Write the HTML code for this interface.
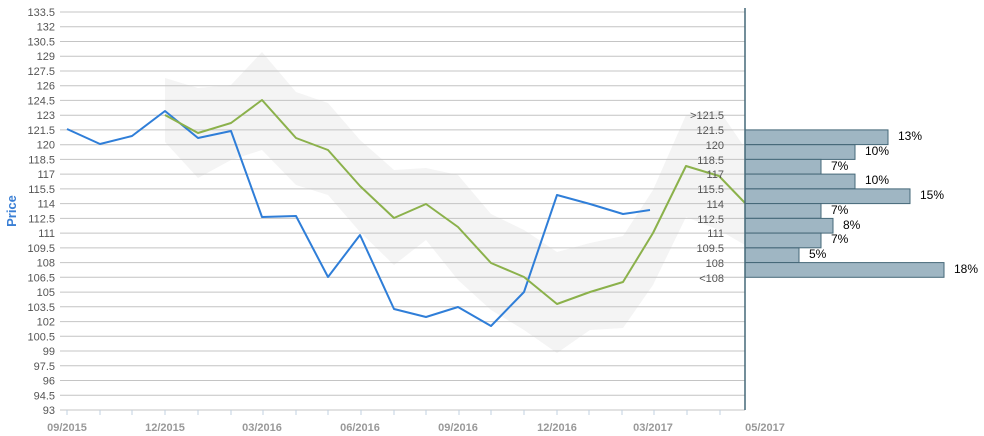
<!DOCTYPE html>
<html><head><meta charset="utf-8"><style>
html,body{margin:0;padding:0;background:#fff;}
svg{display:block;font-family:"Liberation Sans",sans-serif;}
</style></head><body>
<svg width="984" height="436" viewBox="0 0 984 436">
<polygon fill="#f4f4f4" points="165,78 198,88 231,85 262,52 296,92 328,103 360,140 394,170 426,168 458,175 491,214 524,230 557,252 590,243 623,236 653,190 686,115 719,110 745,148 745,245 719,230 686,217 653,285 623,328 590,330 557,353 524,330 491,310 458,280 426,240 394,265 360,232 328,195 296,185 262,150 231,160 198,178 165,142"/>
<g stroke="#c4c4c4" stroke-width="1">
<line x1="60" x2="745" y1="12" y2="12"/><line x1="60" x2="745" y1="26.7" y2="26.7"/><line x1="60" x2="745" y1="41.5" y2="41.5"/><line x1="60" x2="745" y1="56.2" y2="56.2"/><line x1="60" x2="745" y1="71" y2="71"/><line x1="60" x2="745" y1="85.7" y2="85.7"/><line x1="60" x2="745" y1="100.4" y2="100.4"/><line x1="60" x2="745" y1="115.2" y2="115.2"/><line x1="60" x2="745" y1="129.9" y2="129.9"/><line x1="60" x2="745" y1="144.7" y2="144.7"/><line x1="60" x2="745" y1="159.4" y2="159.4"/><line x1="60" x2="745" y1="174.1" y2="174.1"/><line x1="60" x2="745" y1="188.9" y2="188.9"/><line x1="60" x2="745" y1="203.6" y2="203.6"/><line x1="60" x2="745" y1="218.4" y2="218.4"/><line x1="60" x2="745" y1="233.1" y2="233.1"/><line x1="60" x2="745" y1="247.9" y2="247.9"/><line x1="60" x2="745" y1="262.6" y2="262.6"/><line x1="60" x2="745" y1="277.3" y2="277.3"/><line x1="60" x2="745" y1="292.1" y2="292.1"/><line x1="60" x2="745" y1="306.8" y2="306.8"/><line x1="60" x2="745" y1="321.6" y2="321.6"/><line x1="60" x2="745" y1="336.3" y2="336.3"/><line x1="60" x2="745" y1="351" y2="351"/><line x1="60" x2="745" y1="365.8" y2="365.8"/><line x1="60" x2="745" y1="380.5" y2="380.5"/><line x1="60" x2="745" y1="395.3" y2="395.3"/><line x1="60" x2="745" y1="410" y2="410"/>
</g>
<g stroke="#c0d0e0" stroke-width="1">
<line x1="67" x2="67" y1="410" y2="415"/><line x1="100" x2="100" y1="410" y2="415"/><line x1="132" x2="132" y1="410" y2="415"/><line x1="165" x2="165" y1="410" y2="415"/><line x1="198" x2="198" y1="410" y2="415"/><line x1="231" x2="231" y1="410" y2="415"/><line x1="263" x2="263" y1="410" y2="415"/><line x1="296" x2="296" y1="410" y2="415"/><line x1="328" x2="328" y1="410" y2="415"/><line x1="361" x2="361" y1="410" y2="415"/><line x1="394" x2="394" y1="410" y2="415"/><line x1="426" x2="426" y1="410" y2="415"/><line x1="459" x2="459" y1="410" y2="415"/><line x1="491" x2="491" y1="410" y2="415"/><line x1="524" x2="524" y1="410" y2="415"/><line x1="557" x2="557" y1="410" y2="415"/><line x1="589" x2="589" y1="410" y2="415"/><line x1="622" x2="622" y1="410" y2="415"/><line x1="654" x2="654" y1="410" y2="415"/><line x1="687" x2="687" y1="410" y2="415"/><line x1="720" x2="720" y1="410" y2="415"/>
</g>
<g font-size="11" fill="#555" text-anchor="end">
<text x="55" y="16">133.5</text><text x="55" y="30.7">132</text><text x="55" y="45.5">130.5</text><text x="55" y="60.2">129</text><text x="55" y="75">127.5</text><text x="55" y="89.7">126</text><text x="55" y="104.4">124.5</text><text x="55" y="119.2">123</text><text x="55" y="133.9">121.5</text><text x="55" y="148.7">120</text><text x="55" y="163.4">118.5</text><text x="55" y="178.1">117</text><text x="55" y="192.9">115.5</text><text x="55" y="207.6">114</text><text x="55" y="222.4">112.5</text><text x="55" y="237.1">111</text><text x="55" y="251.9">109.5</text><text x="55" y="266.6">108</text><text x="55" y="281.3">106.5</text><text x="55" y="296.1">105</text><text x="55" y="310.8">103.5</text><text x="55" y="325.6">102</text><text x="55" y="340.3">100.5</text><text x="55" y="355">99</text><text x="55" y="369.8">97.5</text><text x="55" y="384.5">96</text><text x="55" y="399.3">94.5</text><text x="55" y="414">93</text>
</g>
<g font-size="11" fill="#999" font-weight="bold" text-anchor="middle">
<text x="67" y="431">09/2015</text><text x="165" y="431">12/2015</text><text x="262" y="431">03/2016</text><text x="360" y="431">06/2016</text><text x="458" y="431">09/2016</text><text x="557" y="431">12/2016</text><text x="653" y="431">03/2017</text><text x="765" y="431">05/2017</text>
</g>
<text transform="translate(16,211) rotate(-90)" font-size="13" font-weight="bold" fill="#3a7fd5" text-anchor="middle">Price</text>
<polyline fill="none" stroke="#2f7ed8" stroke-width="2" stroke-linejoin="round" points="67,129 100,144 132,136 165,111 198,138 231,131 262,217 296,216 328,277 360,235 394,309 426,317 458,307 491,326 524,292 557,195 590,204 623,214 650,210"/>
<polyline fill="none" stroke="#8bb14b" stroke-width="2" stroke-linejoin="round" points="165,115 198,133 231,123 262,100 296,138 328,150 360,186 394,218 426,204 458,227 491,263 524,277 557,304 590,292 623,282 653,233 686,166 719,176 745,203"/>
<g fill="#9fb6c3" stroke="#456878" stroke-width="1">
<rect x="745" y="129.9" width="143" height="14.7"/><rect x="745" y="144.7" width="110" height="14.7"/><rect x="745" y="159.4" width="76" height="14.7"/><rect x="745" y="174.1" width="110" height="14.7"/><rect x="745" y="188.9" width="165" height="14.7"/><rect x="745" y="203.6" width="76" height="14.7"/><rect x="745" y="218.4" width="88" height="14.7"/><rect x="745" y="233.1" width="76" height="14.7"/><rect x="745" y="247.9" width="54" height="14.7"/><rect x="745" y="262.6" width="199" height="14.7"/>
</g>
<line x1="745" x2="745" y1="8" y2="410" stroke="#456878" stroke-width="1.5"/>
<g font-size="11" fill="#555" text-anchor="end">
<text x="724" y="119">&gt;121.5</text><text x="724" y="134">121.5</text><text x="724" y="149">120</text><text x="724" y="164">118.5</text><text x="724" y="178">117</text><text x="724" y="193">115.5</text><text x="724" y="208">114</text><text x="724" y="223">112.5</text><text x="724" y="237">111</text><text x="724" y="252">109.5</text><text x="724" y="267">108</text><text x="724" y="282">&lt;108</text>
</g>
<g font-size="12" fill="#000">
<text x="898" y="140">13%</text><text x="865" y="155">10%</text><text x="831" y="170">7%</text><text x="865" y="184">10%</text><text x="920" y="199">15%</text><text x="831" y="214">7%</text><text x="843" y="229">8%</text><text x="831" y="243">7%</text><text x="809" y="258">5%</text><text x="954" y="273">18%</text>
</g>
</svg>
</body></html>
